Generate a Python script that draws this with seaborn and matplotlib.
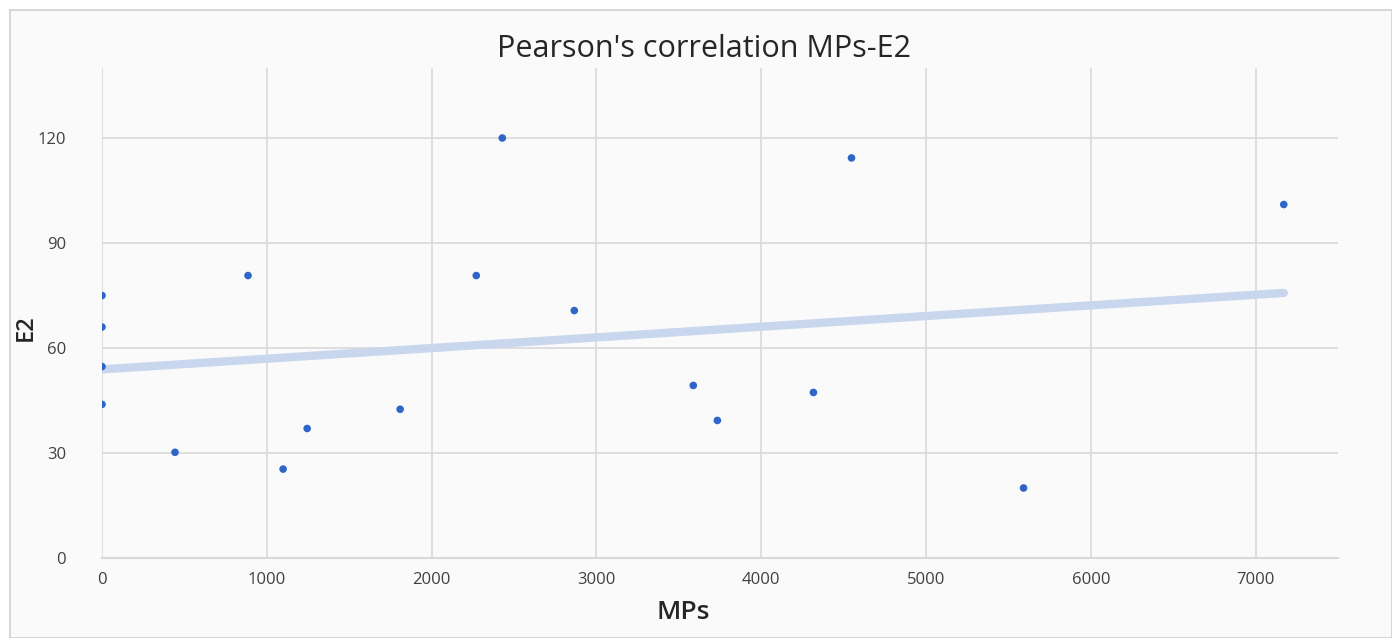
import numpy as np
import pandas as pd
import seaborn as sns
import matplotlib.pyplot as plt
from matplotlib.patches import Rectangle

# Values
mps = [0, 0, 0, 0, 443, 886, 1099, 1245, 1809, 2271, 2429, 2866, 3588, 3734, 4317, 4548, 5592, 7171]
e2 = [75, 66, 54.7, 43.9, 30.2, 80.7, 25.4, 37, 42.5, 80.7, 120, 70.7, 49.3, 39.3, 47.3, 114.3, 20, 101]
x_ticks = [0, 1000, 2000, 3000, 4000, 5000, 6000, 7000]
y_ticks = [0, 30, 60, 90, 120]

df = pd.DataFrame({'MPs': mps, 'E2': e2})

sns.set_style('white')
plt.rcParams['font.family'] = ['Open Sans', 'DejaVu Sans']

fig = plt.figure(figsize=(13.92, 6.38), dpi=100)
fig.patch.set_facecolor('white')
# chart frame
fig.patches.append(Rectangle((10 / 1392, 0), 1 - 10 / 1392, 1 - 10 / 638, transform=fig.transFigure,
                             facecolor='#fafafa', edgecolor='#d0d0d0', lw=1.2, zorder=-1))

ax = fig.add_axes([102 / 1392, 1 - 558 / 638, (1338 - 102) / 1392, (558 - 68) / 638])
ax.set_facecolor('none')

# trendline
sns.regplot(data=df, x='MPs', y='E2', ax=ax, ci=None, scatter=False,
            line_kws={'color': '#c8d6ee', 'lw': 6, 'solid_capstyle': 'round', 'zorder': 2})
# points
sns.scatterplot(data=df, x='MPs', y='E2', ax=ax, color='#2e66c8', s=30, edgecolor='none', zorder=3)

ax.set_xlim(0, 7500)
ax.set_ylim(0, 140)
ax.set_xticks(x_ticks)
ax.set_yticks(y_ticks)
ax.grid(True, color='#d9d9d9', lw=1.2, zorder=0)
ax.set_axisbelow(True)
for s in ['top', 'right', 'left']:
    ax.spines[s].set_visible(False)
ax.spines['bottom'].set_color('#d9d9d9')
ax.spines['bottom'].set_linewidth(1.5)
ax.tick_params(axis='both', length=0, labelsize=12, labelcolor='#404040')
ax.tick_params(axis='x', pad=10)
ax.tick_params(axis='y', pad=26)

ax.set_xlabel('MPs', fontsize=19, color='#262626', fontweight='semibold')
ax.xaxis.set_label_coords(0.47, -0.085)
ax.set_ylabel('E2', fontsize=17, color='#262626', fontweight='semibold')
ax.yaxis.set_label_coords(-0.052, 0.47)
ax.set_title("Pearson's correlation MPs-E2", fontsize=22, color='#262626',
             fontweight='medium', x=0.487, y=1.0, pad=8)

fig.savefig('out.png', dpi=100, facecolor=fig.get_facecolor())
